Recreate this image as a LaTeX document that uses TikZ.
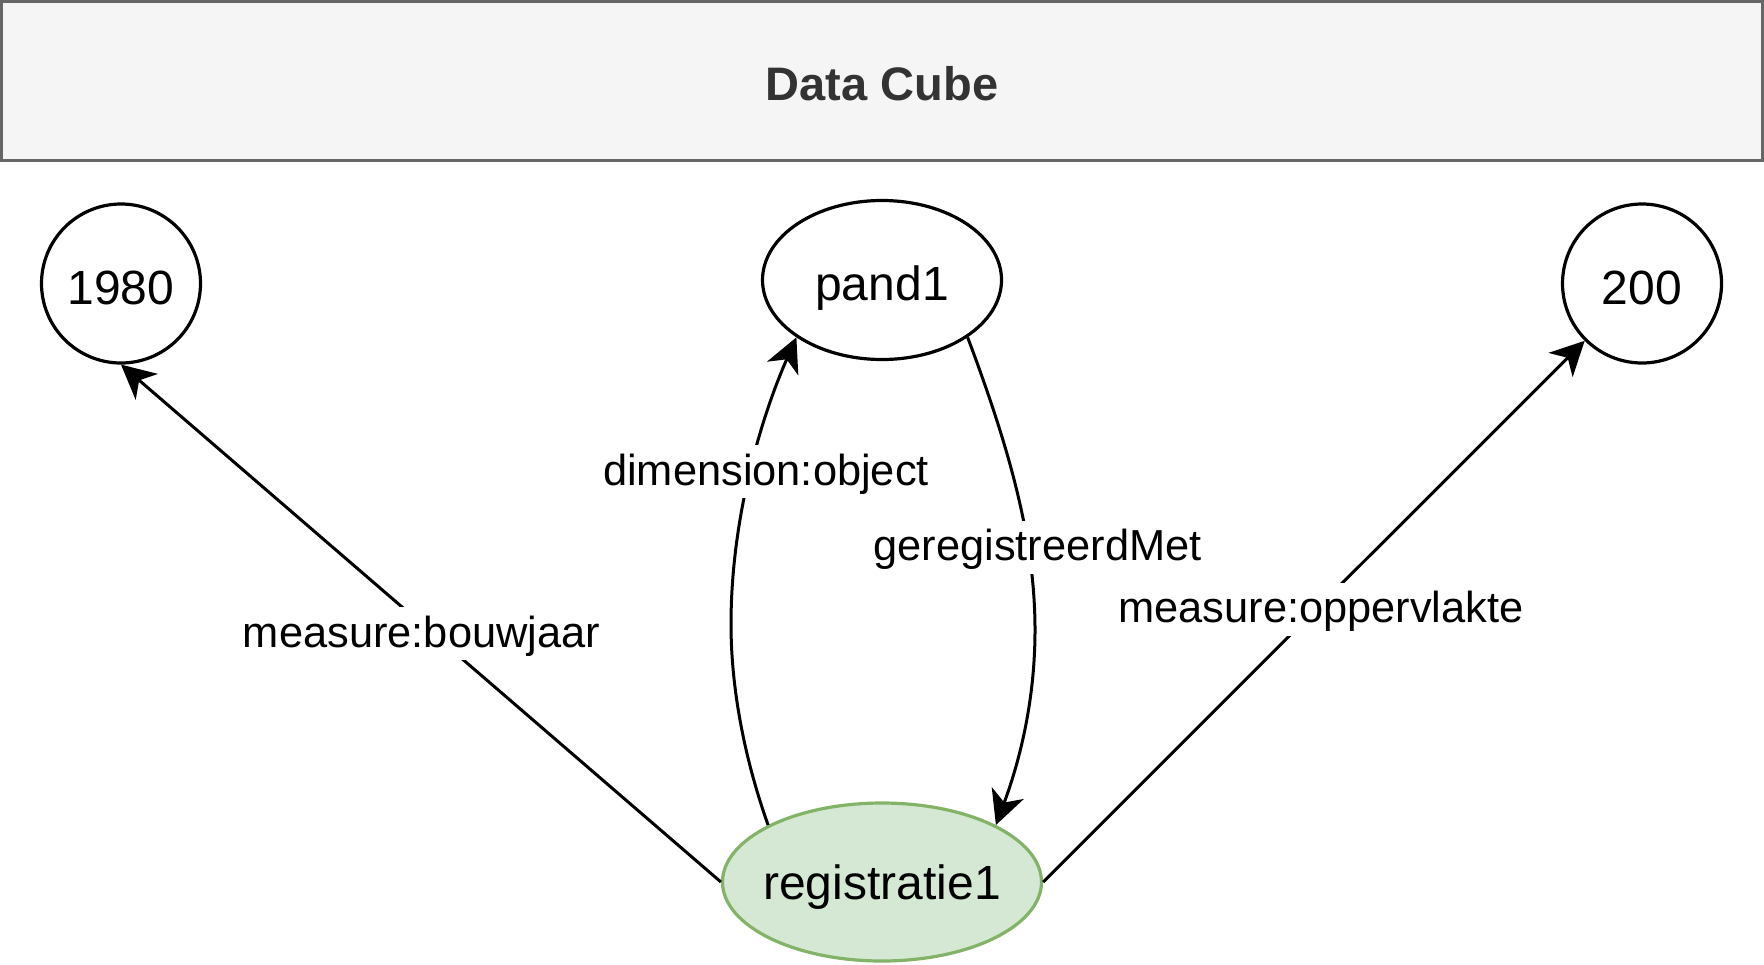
\documentclass[tikz,border=0pt]{standalone}
\usepackage{fontspec}
\setmainfont{Liberation Sans}
\usetikzlibrary{shapes.geometric,arrows.meta}
\definecolor{cubegray}{HTML}{666666}
\definecolor{cubefill}{HTML}{F5F5F5}
\definecolor{cubetext}{HTML}{333333}
\definecolor{regfill}{HTML}{D5E8D4}
\definecolor{regline}{HTML}{82B366}

\begin{document}
\begin{tikzpicture}[x=0.5pt,y=-0.5pt,
    header/.style={draw=cubegray, fill=cubefill, line width=1.5pt, minimum width=880.5pt, minimum height=79.5pt, inner sep=0pt, text height=19pt, text depth=0pt, text=cubetext, font=\fontsize{23.5}{28}\selectfont\bfseries},
    value/.style={circle, draw, line width=1.6pt, minimum size=79.5pt, inner sep=0pt, text height=20.5pt, text depth=0pt, font=\fontsize{24}{28}\selectfont},
    thing/.style={ellipse, draw, line width=1.6pt, inner xsep=-8pt, inner ysep=0pt, text height=20pt, text depth=0pt, font=\fontsize{24}{28}\selectfont},
    rel/.style={line width=1.5pt, -{Stealth[length=17pt,width=17pt,inset=5pt]}},
    rellabel/.style={fill=white, inner xsep=3pt, inner ysep=4pt, text height=16pt, text depth=2.5pt, font=\fontsize{21.7}{26}\selectfont}]
    \useasboundingbox (0,0) rectangle (1764,964);

    \node[header] (cube) at (882,81) {Data Cube};

    \node[value] (v1980) at (121,283.5) {1980};
    \node[value] (v200) at (1642,283.5) {200};
    \node[thing, minimum width=119.5pt, minimum height=79.5pt] (pand) at (882,280) {pand1};
    \node[thing, fill=regfill, draw=regline, minimum width=159.5pt, minimum height=79pt, text height=17pt] (reg) at (882,882) {registratie1};

    \draw[rel] (reg.west) -- (v1980.south);
    \draw[rel] (reg.east) -- (v200.south west);
    \draw[rel] (reg.north west) .. controls (745,760) and (731,690) .. (731,624) .. controls (731,520) and (760,420) .. (pand.south west);
    \draw[rel] (pand.south east) .. controls (1010,450) and (1035,540) .. (1035,630) .. controls (1035,700) and (1020,760) .. (reg.north east);

    \node[rellabel] (lbouw) at (421.5,633.5) {measure:bouwjaar};
    \node[rellabel] (lopp) at (1321,609) {measure:oppervlakte};
    \node[rellabel] (lobj) at (766,471.5) {dimension:object};
    \node[rellabel] (lmet) at (1037.5,547) {geregistreerdMet};

\end{tikzpicture}
\end{document}
